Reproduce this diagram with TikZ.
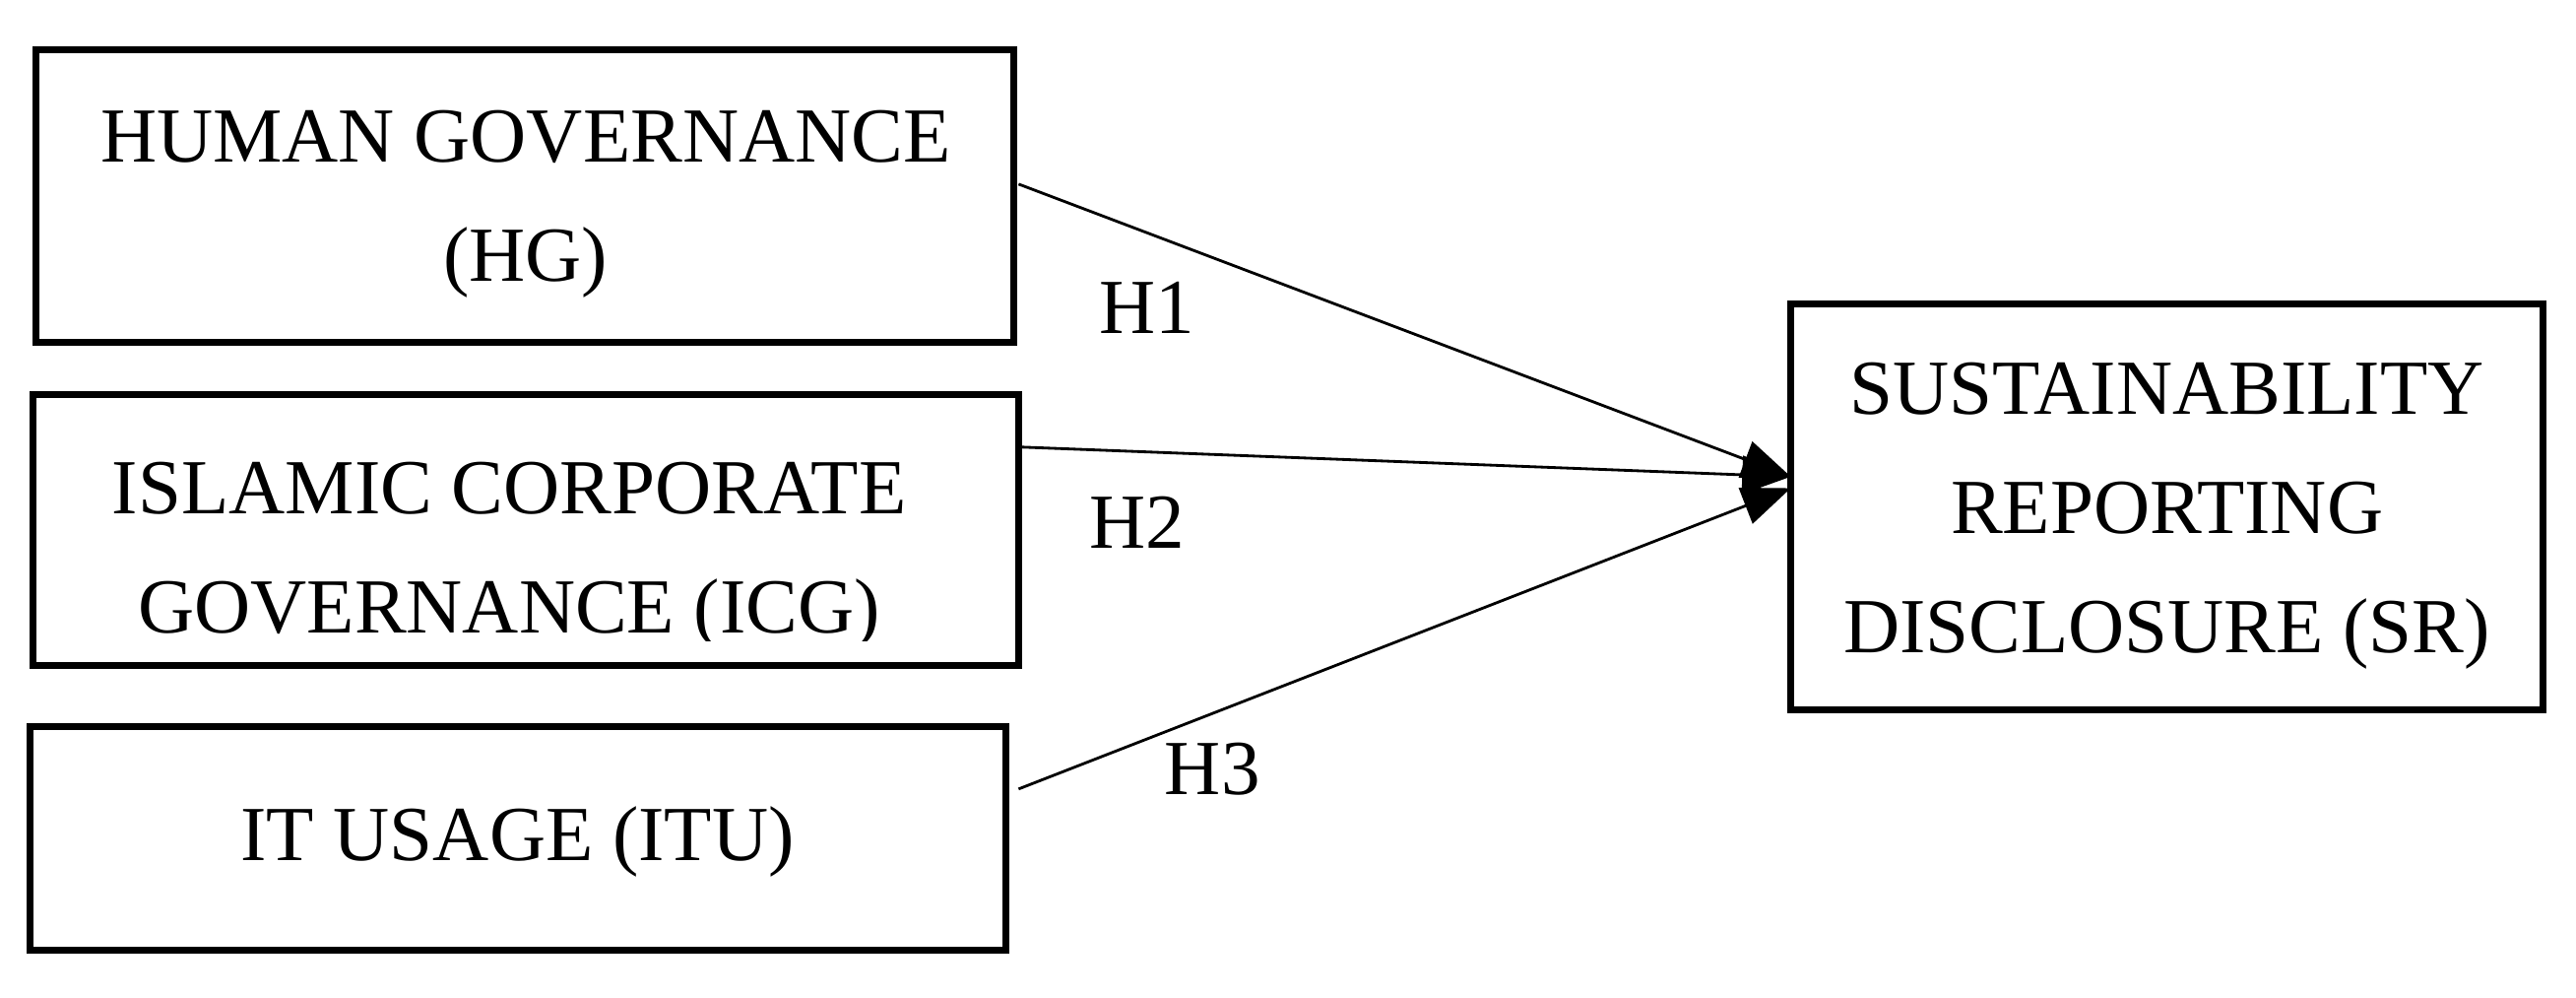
\documentclass[tikz,border=0pt]{standalone}
\usepackage{fontspec}
\setmainfont{Liberation Serif}
\usetikzlibrary{arrows.meta}
\begin{document}
\begin{tikzpicture}[x=0.01668cm,y=-0.01668cm,
 box/.style={draw,line width=2pt,fill=white},
 txt/.style={font=\fontsize{22.5}{34.5}\selectfont,align=center},
 arr/.style={line width=0.8pt,-{Triangle[length=14pt,width=11pt]}},
 lab/.style={font=\fontsize{22.5}{26}\selectfont}]
\useasboundingbox (0,0) rectangle (1568,607);
\draw[box] (22,30) rectangle (617,208);
\node[txt] (hg) at (320,124) {HUMAN GOVERNANCE\\(HG)};
\draw[box] (20,240) rectangle (620,405);
\node[txt] (icg) at (310,338) {ISLAMIC CORPORATE\\GOVERNANCE (ICG)};
\fill[white] (100,390) rectangle (560,403);
\draw[line width=2pt] (20,405) -- (620,405);
\draw[box] (18,442) rectangle (612,578);
\node[txt] (itu) at (315,512) {IT USAGE (ITU)};
\draw[box] (1090,185) rectangle (1548,432);
\node[txt] (sr) at (1319,314) {SUSTAINABILITY\\REPORTING\\DISCLOSURE (SR)};
\coordinate (a1) at (620,112);
\coordinate (a2) at (622,272);
\coordinate (a3) at (620,480);
\coordinate (t1) at (1090,290);
\coordinate (t3) at (1090,297);
\draw[arr] (a1) -- (t1);
\draw[arr] (a2) -- (t1);
\draw[arr] (a3) -- (t3);
\node[lab] (h1) at (698,187) {H1};
\node[lab] (h2) at (692,318) {H2};
\node[lab] (h3) at (738,468) {H3};
\end{tikzpicture}
\end{document}
